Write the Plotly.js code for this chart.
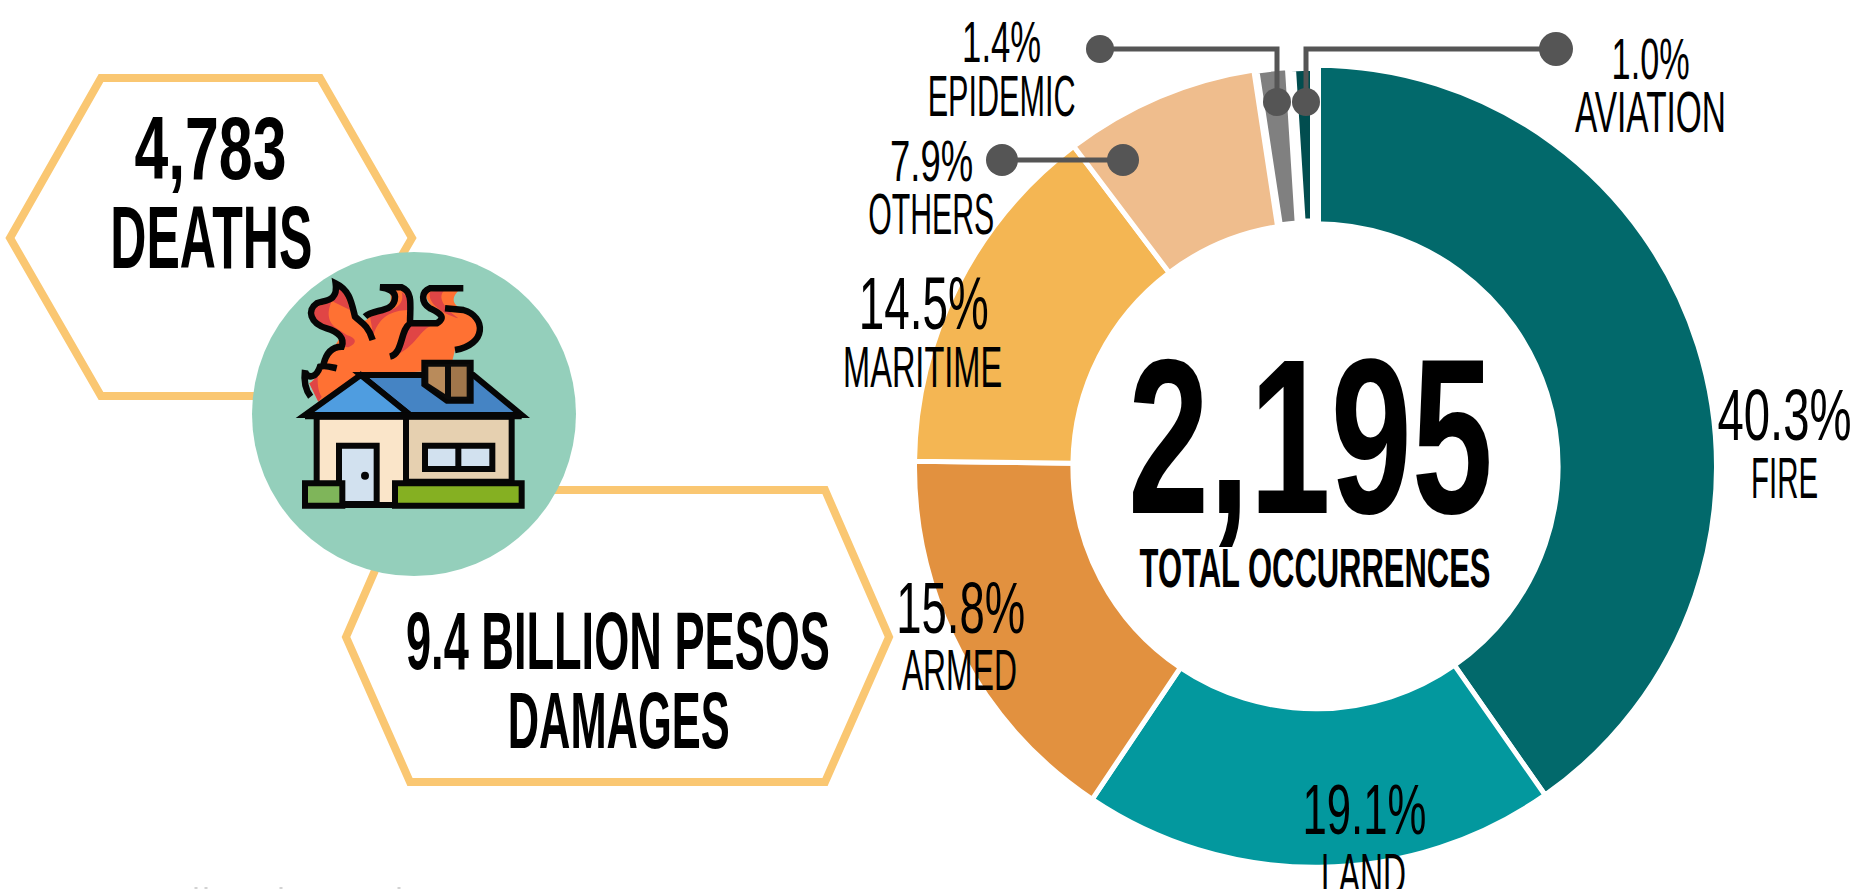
<!DOCTYPE html>
<html><head><meta charset="utf-8">
<script src="https://cdn.plot.ly/plotly-3.0.1.min.js"></script>
<style>html,body{margin:0;padding:0;background:#fff}#c{width:1853px;height:889px}</style>
</head><body><div id="c"></div>
<script>
// ---- data ----
var categories = ["FIRE","LAND","ARMED","MARITIME","OTHERS","EPIDEMIC","AVIATION"];
var shares = [40.3,19.1,15.8,14.5,7.9,1.4,1.0];
var colors = ["#02696B","#03989E","#E2913F","#F4B653","#EFBD8D","#808080","#014D4F"];
var gapWidths = [5,5,5,5,5,8,11];
var totalText = "2,195", totalLabel = "TOTAL OCCURRENCES";
var deathsText = "4,783", deathsLabel = "DEATHS";
var damagesText = "9.4 BILLION PESOS", damagesLabel = "DAMAGES";

// ---- layout helpers (pixel -> paper) ----
var W=1853,H=889;
var px=function(x){return x/W}, py=function(y){return 1-y/H};
function poly(pts,close){return pts.map(function(p,i){return (i?'L':'M')+px(p[0])+','+py(p[1])}).join(' ')+(close?' Z':'')}
function line(pts,color,w){return {type:'path',xref:'paper',yref:'paper',path:poly(pts),line:{color:color,width:w},layer:'above'}}
function dot(x,y,r,color){return {type:'circle',xref:'paper',yref:'paper',x0:px(x-r),x1:px(x+r),y0:py(y+r),y1:py(y-r),fillcolor:color,line:{width:0},layer:'above'}}
// icon path written in 3x crop coordinates around (270,260)
function ic(d){return d.replace(/(-?[\d.]+),(-?[\d.]+)/g,function(m,a,b){return px(270+a/3)+','+py(260+b/3)})}
function iconShape(d,fill,stroke,w){var s={type:'path',xref:'paper',yref:'paper',path:ic(d),layer:'above',line:{width:stroke?w:0,color:stroke||'rgba(0,0,0,0)'}};if(fill)s.fillcolor=fill;return s}

var hexColor='#FAC772', lead='#555555', K='#060606';
var shapes=[
 {type:'path',xref:'paper',yref:'paper',path:poly([[10,238],[101,78],[320,78],[412,238],[320,396],[101,396]],true),line:{color:hexColor,width:8},layer:'below'},
 {type:'path',xref:'paper',yref:'paper',path:poly([[346,637],[410,490],[825,490],[889,637],[825,782],[410,782]],true),line:{color:hexColor,width:8},layer:'below'},
 {type:'circle',xref:'paper',yref:'paper',x0:px(252),x1:px(576),y0:py(576),y1:py(252),fillcolor:'#94CFBB',line:{width:0},layer:'above'},
 // flames
 iconShape('M118,370 C135,360 145,340 150,315 L190,265 L215,225 C180,205 125,195 125,165 C125,130 190,130 195,75 C230,90 240,130 250,165 C265,190 290,190 300,165 C340,150 385,130 350,85 L395,85 C425,100 425,140 425,190 L505,190 C530,170 460,130 470,100 C480,85 530,80 575,85 C540,110 545,135 580,150 C650,170 640,240 555,270 L540,330 L270,345 L145,425 Z','#FF7133'),
 iconShape('M118,370 C130,365 140,350 145,335 C140,370 145,395 155,410 L145,425 Z','#E04545'),
 iconShape('M185,110 C200,100 195,90 195,78 C225,90 232,125 240,150 L190,125 Z M140,140 C170,135 185,120 190,115 C170,150 170,185 200,205 L230,225 C262,235 262,250 235,262 L215,260 L215,225 C170,205 125,190 125,165 Z','#E04545'),
 iconShape('M300,170 C340,155 410,150 395,95 L420,120 L420,150 C380,150 330,160 310,225 Z','#E04545'),
 iconShape('M420,195 L490,195 C450,205 440,260 370,290 C395,270 395,220 420,195 Z','#E04545'),
 iconShape('M480,95 L525,90 C505,105 510,135 565,175 C530,165 470,135 480,95 Z','#E04545'),
 iconShape('M105,330 C100,370 110,395 122,410 M105,335 C115,360 140,350 150,320 C165,315 180,320 200,325 M160,315 C170,270 195,260 215,260 C225,235 205,215 170,205 C120,190 110,150 140,130 C165,120 205,125 197,70 C240,90 245,130 255,170 C270,185 295,195 308,240 M285,170 C310,145 375,160 375,110 C375,95 355,85 330,82 L395,82 C430,95 420,140 420,190 L500,190 C535,170 500,155 480,145 C450,125 455,95 480,85 L580,85 M525,145 L580,150 C650,170 650,255 555,270 M420,190 C390,210 400,280 360,290',null,K,6.5),
 // roof
 iconShape('M272,345 L610,345 L755,465 L420,465 Z','#4584C4',K,6),
 iconShape('M272,345 L420,465 L105,465 Z','#4F9DE0',K,6),
 iconShape('M460,305 L605,305 L605,425 L530,425 L460,375 Z','#0a0a0a',K,4),
 iconShape('M475,320 L525,320 L525,402 L475,370 Z','#B98B5B'),
 iconShape('M543,320 L590,320 L590,410 L543,410 Z','#A0764B'),
 // walls
 iconShape('M140,470 L408,470 L408,735 L140,735 Z','#FAE5C9',K,6),
 iconShape('M408,470 L725,470 L725,665 L408,665 Z','#E6D0B0',K,6),
 iconShape('M105,467 L755,467',null,K,7),
 iconShape('M207,557 L320,557 L320,732 L207,732 Z','#D2E1EF',K,6),
 iconShape('M465,557 L667,557 L667,627 L465,627 Z','#D2E1EF',K,6),
 iconShape('M565,557 L565,627',null,K,6),
 iconShape('M105,670 L217,670 L217,737 L105,737 Z','#7FB55A',K,6),
 iconShape('M375,670 L755,670 L755,737 L375,737 Z','#85B022',K,6),
 dot(270+285/3,260+647/3,4,K),
 // leaders
 line([[1100,49],[1277,49],[1277,102]],lead,5),
 line([[1556,49],[1306,49],[1306,102]],lead,5),
 line([[1002,160],[1123,160]],lead,5),
 dot(1100,49,14,lead),dot(1277,102,14,lead),dot(1556,49,17,lead),dot(1306,102,14,lead),dot(1002,160,16,lead),dot(1123,160,16,lead),
 // clipped remains of a line of text on the bottom edge
 line([[194.5,888],[197.5,888]],'#c4c4c4',1.5),line([[204.5,888],[207.5,888]],'#c4c4c4',1.5),line([[279.5,888],[282.5,888]],'#c4c4c4',1.5),line([[397.5,888],[400.5,888]],'#c4c4c4',1.5)
];

// ---- text: cx, cy, target width, cap height, bold ----
function pct(i){return shares[i].toFixed(1)+'%'}
var texts=[
 [pct(5),1001,42,79,38,0],[categories[5],1001,95,148,39,0],
 [pct(6),1650,59,78,38,0],[categories[6],1650,111,151,39,0],
 [pct(4),931,161,83,38,0],[categories[4],931,213,126,39,0],
 [pct(3),924,303,130,50,0],[categories[3],922,367,159,38,0],
 [pct(2),960,607,129,49,0],[categories[2],959,670,115,38,0],
 [pct(0),1784,415,134,48,0],[categories[0],1784.5,479,67,38,0],
 [pct(1),1364,810,124,47,0],[categories[1],1363,874,85,38,0],
 [totalText,1310,436,365,153,1],[totalLabel,1315,568,351,38,1],
 [deathsText,210,148,152,62,1],[deathsLabel,211,237,202,62,1],
 [damagesText,618,641,424,56,1],[damagesLabel,618,720,222,55,1]
];
var FONT_N='"Liberation Sans Narrow","Liberation Sans",sans-serif';
var annotations=texts.map(function(t){
 return {xref:'paper',yref:'paper',x:px(t[1]),y:py(t[2]),xanchor:'center',yanchor:'middle',showarrow:false,text:t[5]?'<b>'+t[0]+'</b>':t[0],
  font:{family:FONT_N,size:t[4]/(t[5]?0.69:0.67),color:'#000'},borderpad:0};
});

var trace={type:'pie',labels:categories,values:shares,sort:false,direction:'clockwise',rotation:0,hole:0.605,
 marker:{colors:colors,line:{color:'#fff',width:gapWidths}},textinfo:'none',hoverinfo:'label+percent',showlegend:false,
 domain:{x:[914.5/W,1716.5/W],y:[1-868/H,1-64.5/H]}};
var layout={width:W,height:H,margin:{l:0,r:0,t:0,b:0},paper_bgcolor:'#fff',showlegend:false,shapes:shapes,annotations:annotations};
Plotly.newPlot('c',[trace],layout,{displayModeBar:false,staticPlot:true}).then(function(){
 // condense the real text horizontally to the poster's narrow lettering width
 var els=document.querySelectorAll('#c text.annotation-text');
 els.forEach(function(el,i){
  var t=texts[i], b=el.getBBox(), cx=b.x+b.width/2, s=t[3]/b.width;
  el.setAttribute('transform','translate('+cx+',0) scale('+s+',1) translate('+(-cx)+',0)');
 });
});
</script></body></html>
